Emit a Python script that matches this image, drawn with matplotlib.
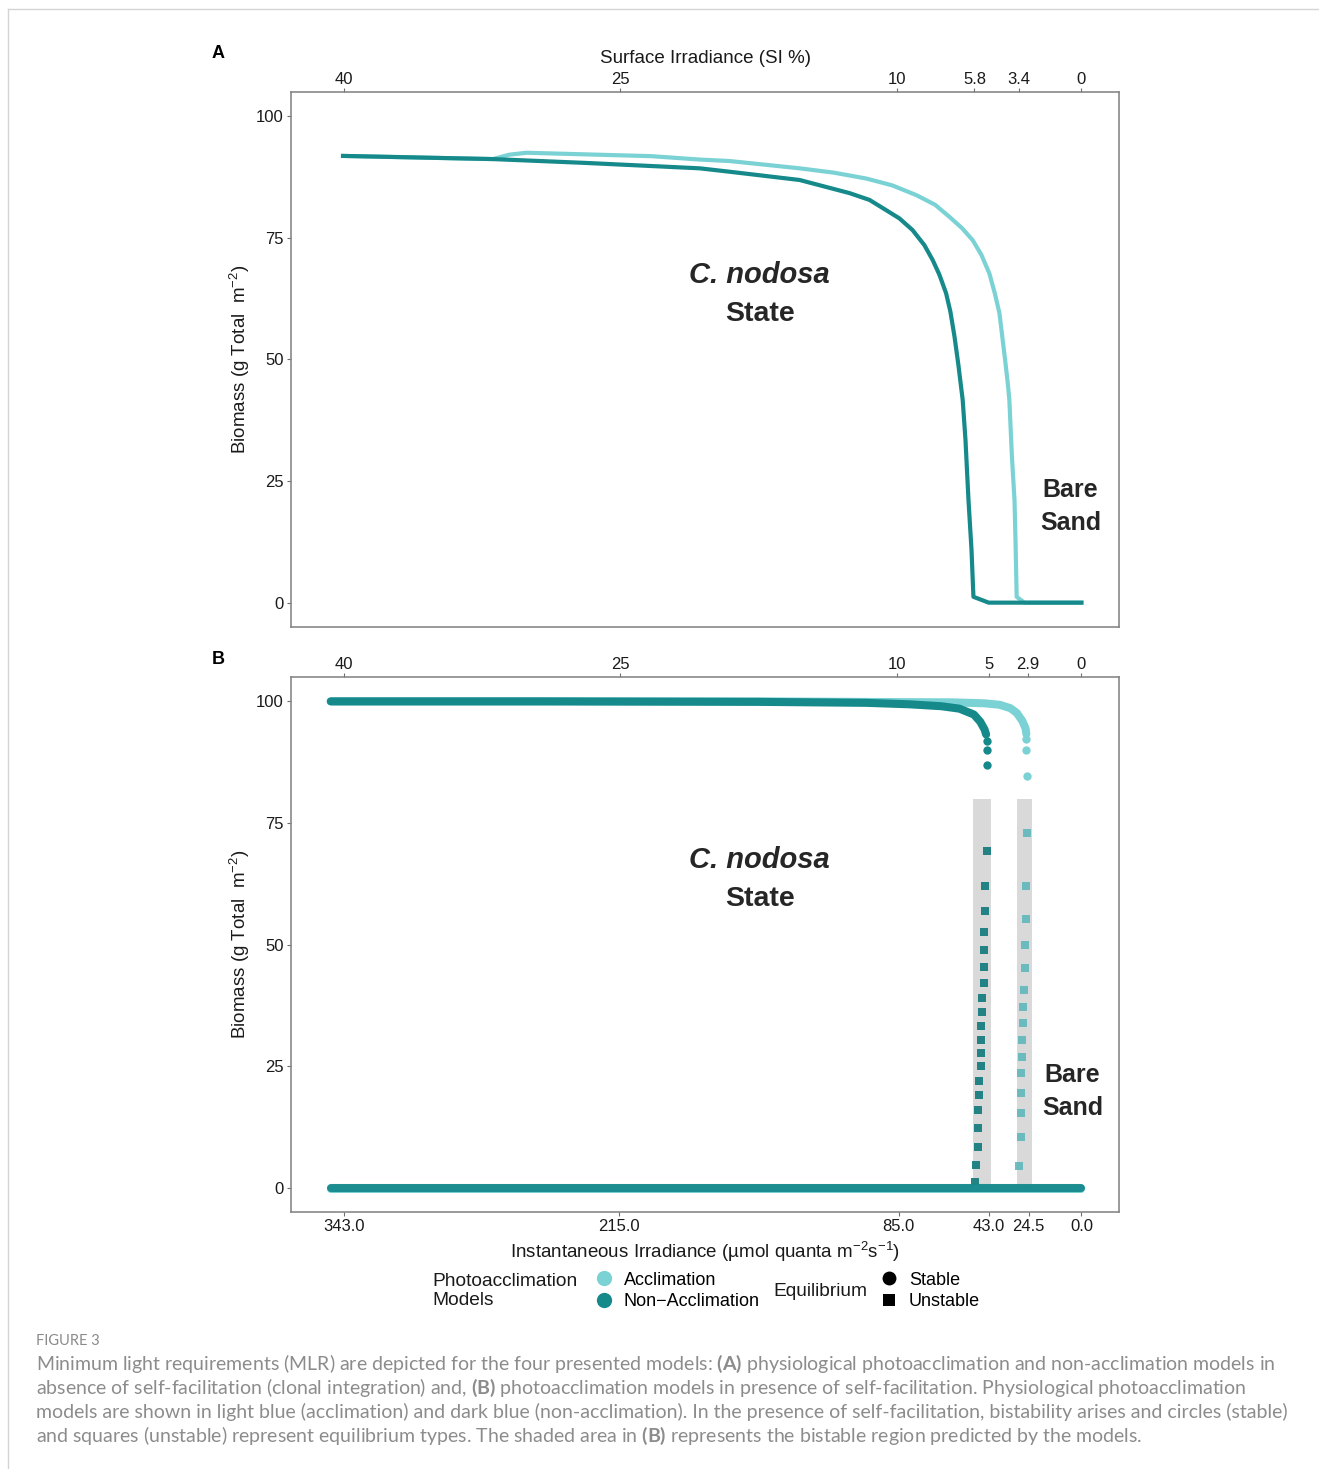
import matplotlib
matplotlib.use("Agg")
import matplotlib.pyplot as plt
from matplotlib.lines import Line2D

plt.rcParams.update({
    "font.family": ["Liberation Sans", "DejaVu Sans"],
    "mathtext.fontset": "custom",
    "mathtext.rm": "Liberation Sans", "mathtext.it": "Liberation Sans:italic",
    "mathtext.bf": "Lato:bold",
    "axes.edgecolor": "#7f7f7f", "axes.linewidth": 1.1,
    "xtick.color": "#6e6e6e", "ytick.color": "#6e6e6e",
    "xtick.labelcolor": "#1a1a1a", "ytick.labelcolor": "#1a1a1a",
    "xtick.labelsize": 12, "ytick.labelsize": 12,
    "xtick.major.size": 3.2, "ytick.major.size": 3.2,
})
LIGHT = "#7bd2d5"; DARK = "#16898b"; SHADE = "#d9d9d9"; INK = "#1a1a1a"

# ---- panel A: no self-facilitation (irradiance, biomass) ----
A_NONACC_IRR = [343.3, 273.6, 230.0, 177.5, 163.6, 131.0, 107.8, 98.5, 90.8, 84.6, 78.5,
                73.0, 69.1, 66.0, 62.9, 60.9, 59.0, 57.2, 55.2, 53.9, 52.5, 51.1, 50.2,
                43.1, 0.0]
A_NONACC_BIO = [91.85, 91.2, 90.4, 89.3, 88.6, 86.9, 84.2, 82.8, 80.7, 79.0, 76.6,
                73.5, 70.4, 67.4, 63.6, 59.8, 54.7, 48.9, 41.7, 33.5, 21.1, 10.9, 1.2,
                0.0, 0.0]
A_ACC_IRR = [343.3, 273.6, 266.0, 258.0, 200.0, 177.5, 163.6, 131.0, 115.0, 100.0, 88.0,
             76.8, 68.0, 61.3, 55.5, 50.5, 46.5, 42.8, 40.2, 38.1, 36.6, 35.5, 34.2, 33.5,
             32.3, 31.1, 30.6, 30.1, 26.5, 0.0]
A_ACC_BIO = [91.85, 91.2, 92.1, 92.5, 91.8, 91.1, 90.8, 89.3, 88.4, 87.2, 85.8,
             83.8, 81.8, 79.3, 77.0, 74.5, 71.5, 67.7, 63.5, 59.5, 54.0, 50.0, 45.0, 41.7,
             30.0, 21.1, 12.0, 1.2, 0.0, 0.0]

# ---- panel B: with self-facilitation ----
# dense stable upper branch
B_NONACC_UP_IRR = [349.0, 250.0, 150.0, 100.0, 80.0, 65.0, 56.7, 50.0, 47.0, 45.0, 44.3]
B_NONACC_UP_BIO = [100.0, 100.0, 99.9, 99.7, 99.4, 99.0, 98.5, 97.3, 95.8, 94.2, 93.2]
B_ACC_UP_IRR = [349.0, 250.0, 150.0, 60.0, 45.0, 38.0, 33.0, 30.0, 27.5, 26.0, 25.6]
B_ACC_UP_BIO = [100.0, 100.0, 100.0, 99.8, 99.6, 99.3, 98.6, 97.6, 96.0, 94.5, 93.3]
# sparse stable points at the end of the upper branch
B_NONACC_TIP_IRR = [44.1, 44.1, 44.0]
B_NONACC_TIP_BIO = [91.8, 90.1, 86.9]
B_ACC_TIP_IRR = [25.6, 25.6, 25.5]
B_ACC_TIP_BIO = [92.3, 90.1, 84.6]
# stable bare-sand branch
B_ZERO_IRR = [349.0, 0.0]
B_ZERO_BIO = [0.0, 0.0]
# unstable branch
B_NONACC_UNST_IRR = [44.1, 44.6, 44.6, 45.1, 45.1, 45.5, 45.5, 46.0, 46.0, 46.5, 46.5,
                     46.9, 46.9, 47.4, 47.4, 47.9, 48.3, 48.3, 48.8, 49.3]
B_NONACC_UNST_BIO = [69.2, 62.0, 57.0, 52.6, 48.9, 45.4, 42.1, 39.0, 36.1, 33.3, 30.4,
                     27.7, 25.0, 22.0, 19.1, 16.0, 12.3, 8.4, 4.7, 1.2]
B_ACC_UNST_IRR = [25.1, 25.6, 25.6, 26.0, 26.0, 26.5, 27.0, 27.0, 27.4, 27.4, 27.9, 27.9,
                  28.3, 28.3, 28.8]
B_ACC_UNST_BIO = [72.9, 62.0, 55.2, 49.9, 45.2, 40.7, 37.2, 33.9, 30.4, 26.9, 23.6, 19.5,
                  15.4, 10.5, 4.5]
# bistable regions (irradiance from, to); biomass top
BISTABLE_NONACC = (42.0, 50.2)
BISTABLE_ACC = (22.9, 30.1)
BISTABLE_TOP = 80

IRR_TICKS = [343, 215, 85, 43, 24.5, 0]
SI_TICKS_A = [40, 25, 10, 5.8, 3.4, 0]
SI_TICKS_B = [40, 25, 10, 5, 2.9, 0]
SI_MAX, IRR_MAX = 40, 343

fig = plt.figure(figsize=(13.19, 14.69), dpi=100)
axA = fig.add_axes([0.2206, 0.5732, 0.6278, 0.3642])
axB = fig.add_axes([0.2206, 0.1749, 0.6278, 0.3642])


def to_si(x):
    return x * SI_MAX / IRR_MAX


def to_irr(s):
    return s * IRR_MAX / SI_MAX


def style(ax, si_ticks):
    ax.set_xlim(367.5, -17.5)
    ax.set_ylim(-5, 105)
    ax.set_yticks([0, 25, 50, 75, 100])
    ax.tick_params(axis="y", pad=2)
    ax.set_ylabel("Biomass (g Total  m$^{-2}$)", fontsize=13.5, color=INK, labelpad=3)
    sec = ax.secondary_xaxis("top", functions=(to_si, to_irr))
    sec.set_xticks(si_ticks)
    sec.set_xticklabels([f"{v:g}" for v in si_ticks])
    sec.tick_params(pad=0.5)
    sec.spines["top"].set_visible(False)
    # state labels
    ax.text(149.6, 67.4, "C. nodosa", fontsize=21, fontweight="bold", style="italic",
            color="#262626", ha="center", va="center")
    ax.text(149.6, 59.4, "State", fontsize=20.5, fontweight="bold", color="#262626",
            ha="center", va="center")
    return sec


# ---------------- panel A ----------------
secA = style(axA, SI_TICKS_A)
axA.tick_params(axis="x", bottom=False, labelbottom=False)
secA.set_xlabel("Surface Irradiance (SI %)", fontsize=13.5, color=INK, labelpad=6)
axA.plot(A_ACC_IRR, A_ACC_BIO, color=LIGHT, lw=3, solid_joinstyle="round", zorder=2)
axA.plot(A_NONACC_IRR, A_NONACC_BIO, color=DARK, lw=3, solid_joinstyle="round", zorder=3)
axA.text(5.1, 19.8, "Bare\nSand", fontsize=18, fontweight="bold", color="#262626",
         ha="center", va="center", linespacing=1.5)

# ---------------- panel B ----------------
style(axB, SI_TICKS_B)
axB.set_xticks(IRR_TICKS)
axB.set_xticklabels([f"{v:.1f}" for v in IRR_TICKS])
axB.tick_params(axis="x", pad=2)
axB.set_xlabel("Instantaneous Irradiance (\u00b5mol quanta m$^{-2}$s$^{-1}$)",
               fontsize=13.5, color=INK, labelpad=4)
for lo, hi in (BISTABLE_NONACC, BISTABLE_ACC):
    axB.fill_betweenx([0, BISTABLE_TOP], lo, hi, color=SHADE, lw=0, zorder=1)

axB.plot(B_ACC_UP_IRR, B_ACC_UP_BIO, color=LIGHT, lw=5.8, solid_capstyle="round", zorder=3)
axB.plot(B_NONACC_UP_IRR, B_NONACC_UP_BIO, color=DARK, lw=5.8, solid_capstyle="round", zorder=4)
axB.plot(B_ACC_TIP_IRR, B_ACC_TIP_BIO, "o", color=LIGHT, ms=6, mew=0, zorder=3)
axB.plot(B_NONACC_TIP_IRR, B_NONACC_TIP_BIO, "o", color=DARK, ms=6, mew=0, zorder=4)
axB.plot(B_ZERO_IRR, [b - 0.3 for b in B_ZERO_BIO], color=LIGHT, lw=5.8,
         solid_capstyle="round", zorder=3)
axB.plot(B_ZERO_IRR, B_ZERO_BIO, color=DARK, lw=5.8, solid_capstyle="round", alpha=0.95,
         zorder=4)
axB.plot(B_ACC_UNST_IRR, B_ACC_UNST_BIO, "s", color="#5fb7bb", ms=5.4, mew=0, alpha=0.9,
         zorder=2)
axB.plot(B_NONACC_UNST_IRR, B_NONACC_UNST_BIO, "s", color="#187d80", ms=5.4, mew=0,
         alpha=0.95, zorder=2)
axB.text(4.2, 19.8, "Bare\nSand", fontsize=18, fontweight="bold", color="#262626",
         ha="center", va="center", linespacing=1.5)

fig.text(218 / 1319, 1 - 53 / 1469, "A", fontsize=13, fontweight="bold", ha="center",
         va="center")
fig.text(218 / 1319, 1 - 660 / 1469, "B", fontsize=13, fontweight="bold", ha="center",
         va="center")

# ---------------- legends ----------------
fig.text(432 / 1319, 1 - 1291 / 1469, "Photoacclimation\nModels", fontsize=13.8,
         color=INK, ha="left", va="center", linespacing=1.15)
h1 = [Line2D([], [], ls="", marker="o", ms=11, mew=0, color=c) for c in (LIGHT, DARK)]
fig.legend(h1, ["Acclimation", "Non\u2212Acclimation"], loc="center left",
           bbox_to_anchor=(586 / 1319, 1 - 1291 / 1469), frameon=False, fontsize=13,
           handlelength=1.0, handletextpad=0.6, labelspacing=0.25, borderpad=0)
fig.text(773 / 1319, 1 - 1291 / 1469, "Equilibrium", fontsize=13.8, color=INK,
         ha="left", va="center")
h2 = [Line2D([], [], ls="", marker=m, ms=s, mew=0, color="black")
      for m, s in (("o", 10), ("s", 9))]
fig.legend(h2, ["Stable", "Unstable"], loc="center left",
           bbox_to_anchor=(871 / 1319, 1 - 1291 / 1469), frameon=False, fontsize=13,
           handlelength=1.0, handletextpad=0.6, labelspacing=0.25, borderpad=0)

# ---------------- caption ----------------
CAPTION = [
    "Minimum light requirements (MLR) are depicted for the four presented models: "
    "$\\mathbf{(A)}$ physiological photoacclimation and non-acclimation models in",
    "absence of self-facilitation (clonal integration) and, $\\mathbf{(B)}$ photoacclimation "
    "models in presence of self-facilitation. Physiological photoacclimation",
    "models are shown in light blue (acclimation) and dark blue (non-acclimation). "
    "In the presence of self-facilitation, bistability arises and circles (stable)",
    "and squares (unstable) represent equilibrium types. The shaded area in "
    "$\\mathbf{(B)}$ represents the bistable region predicted by the models.",
]
fig.text(36 / 1319, 1 - 1341 / 1469, "FIGURE 3", fontsize=10.5, color="#8a8a8a",
         family="Lato", ha="left", va="center")
for i, line in enumerate(CAPTION):
    fig.text(36 / 1319, 1 - (1364 + 24 * i) / 1469, line, fontsize=14.0, color="#8c8c8c",
             family="Lato", ha="left", va="center")

# page frame
fig.add_artist(Line2D([8 / 1319, 1], [1 - 9 / 1469] * 2, color="#d4d4d4", lw=1))
fig.add_artist(Line2D([8 / 1319] * 2, [0, 1 - 9 / 1469], color="#d4d4d4", lw=1))

fig.savefig("out.png", dpi=100, facecolor="white")
